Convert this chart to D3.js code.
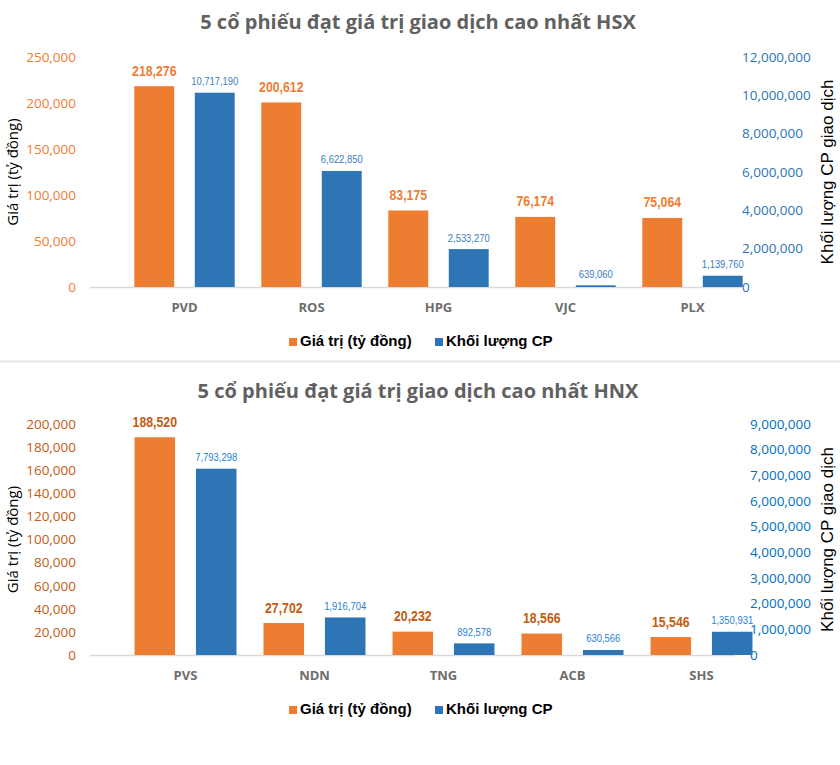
<!DOCTYPE html>
<html><head><meta charset="utf-8">
<script src="https://cdn.jsdelivr.net/npm/d3@7/dist/d3.min.js"></script>
<style>body{margin:0;background:#fff}svg{display:block}</style>
</head><body><svg id="c" width="840" height="765"></svg>
<script>
// ---------- data ----------
const hsxStocks = ["PVD", "ROS", "HPG", "VJC", "PLX"];
const hsxValue = [218276, 200612, 83175, 76174, 75064];
const hsxVolume = [10717190, 6622850, 2533270, 639060, 1139760];
const hsxValueTicks = [0, 50000, 100000, 150000, 200000, 250000];
const hsxVolumeTicks = [0, 2000000, 4000000, 6000000, 8000000, 10000000, 12000000];

const hnxStocks = ["PVS", "NDN", "TNG", "ACB", "SHS"];
const hnxValue = [188520, 27702, 20232, 18566, 15546];
const hnxVolume = [7793298, 1916704, 892578, 630566, 1350931];
const hnxValueTicks = [0, 20000, 40000, 60000, 80000, 100000, 120000, 140000, 160000, 180000, 200000];
const hnxVolumeTicks = [0, 1000000, 2000000, 3000000, 4000000, 5000000, 6000000, 7000000, 8000000, 9000000];

const seriesNames = ["Giá trị (tỷ đồng)", "Khối lượng CP"];
const chartTitles = ["5 cổ phiếu đạt giá trị giao dịch cao nhất HSX", "5 cổ phiếu đạt giá trị giao dịch cao nhất HNX"];
const leftAxisTitle = "Giá trị (tỷ đồng)";
const rightAxisTitle = "Khối lượng CP giao dịch";

// ---------- helpers ----------
const svg = d3.select("#c");
const fmt = d3.format(",");
const ORANGE = "#ED7D31", BLUE = "#2E75B6";

// detect narrow font availability
function hasFont(name) {
  const c = document.createElement("canvas").getContext("2d");
  const s = "10,717,190 218,276";
  c.font = "20px monospace"; const a = c.measureText(s).width;
  c.font = "20px '" + name + "', monospace"; const b = c.measureText(s).width;
  return Math.abs(a - b) > 0.5;
}
const narrowOK = hasFont("Liberation Sans Narrow");
const NARROW = narrowOK ? "'Liberation Sans Narrow', 'Arial Narrow', sans-serif" : "'Liberation Sans', Arial, sans-serif";
const squeeze = narrowOK ? 1 : 0.82;

function drawChart(cfg) {
  const g = svg.append("g");
  // title
  g.append("text").attr("x", 418).attr("y", cfg.titleY)
    .attr("text-anchor", "middle")
    .style("font-family", "'Open Sans', sans-serif").style("font-weight", 700)
    .style("font-size", "20px").style("fill", "#616161")
    .text(cfg.title);

  const x0 = d3.scaleBand().domain(cfg.stocks).range(cfg.xRange);
  const x1 = d3.scaleBand().domain(["value", "volume"]).range([0, x0.bandwidth()])
    .paddingInner(0.34).paddingOuter(0.22);
  const yL = d3.scaleLinear().domain([0, d3.max(cfg.valueTicks)]).range([cfg.plotBottom, cfg.plotTop]);
  const yR = d3.scaleLinear().domain([0, d3.max(cfg.volumeTicks)]).range([cfg.plotBottom, cfg.plotTop]);
  // bars of the volume series as rendered in the reference (baseline offset)
  const yRbar = d3.scaleLinear().domain(cfg.volBarDomain).range([cfg.plotBottom, cfg.plotTop]);

  // left axis
  const la = g.append("g").attr("transform", `translate(${cfg.leftLabelX},0)`)
    .call(d3.axisLeft(yL).tickValues(cfg.valueTicks).tickFormat(fmt).tickSize(0).tickPadding(0));
  la.select(".domain").remove();
  la.selectAll("text").style("font-family", "'Open Sans', sans-serif").style("font-size", "13.5px")
    .style("fill", cfg.leftTickColor);

  // right axis
  const ra = g.append("g").attr("transform", `translate(${cfg.rightLabelX},0)`)
    .call(d3.axisRight(yR).tickValues(cfg.volumeTicks).tickFormat(fmt).tickSize(0).tickPadding(0));
  ra.select(".domain").remove();
  ra.selectAll("text").style("font-family", "'Open Sans', sans-serif").style("font-size", "13.5px")
    .style("fill", cfg.rightTickColor);

  // baseline
  g.append("line").attr("x1", cfg.axisLine[0]).attr("x2", cfg.axisLine[1])
    .attr("y1", cfg.plotBottom + 0.5).attr("y2", cfg.plotBottom + 0.5)
    .attr("stroke", "#d9d9d9").attr("stroke-width", 1.5);

  // bars
  const groups = g.selectAll(".grp").data(cfg.stocks).join("g")
    .attr("transform", d => `translate(${x0(d)},0)`);
  groups.append("rect")
    .attr("x", x1("value")).attr("width", x1.bandwidth())
    .attr("y", (d, i) => yL(cfg.value[i]))
    .attr("height", (d, i) => cfg.plotBottom - yL(cfg.value[i]))
    .attr("fill", ORANGE);
  groups.append("rect")
    .attr("x", x1("volume")).attr("width", x1.bandwidth())
    .attr("y", (d, i) => yRbar(cfg.volume[i]))
    .attr("height", (d, i) => cfg.plotBottom - yRbar(cfg.volume[i]))
    .attr("fill", BLUE);

  // data labels
  groups.append("text")
    .attr("transform", (d, i) => `translate(${x1("value") + x1.bandwidth() / 2},${yL(cfg.value[i]) - 10.5}) scale(${squeeze},1)`)
    .attr("text-anchor", "middle")
    .style("font-family", NARROW).style("font-weight", 700).style("font-size", "15px")
    .style("fill", cfg.valueLabelColor)
    .text((d, i) => fmt(cfg.value[i]));
  groups.append("text")
    .attr("transform", (d, i) => `translate(${x1("volume") + x1.bandwidth() / 2},${yRbar(cfg.volume[i]) - 7.5}) scale(${squeeze},1)`)
    .attr("text-anchor", "middle")
    .style("font-family", NARROW).style("font-size", "11.5px")
    .style("fill", cfg.volumeLabelColor)
    .text((d, i) => fmt(cfg.volume[i]));

  // category axis labels
  const xa = g.append("g").attr("transform", `translate(0,${cfg.plotBottom})`)
    .call(d3.axisBottom(x0).tickSize(0).tickPadding(cfg.xLabelPad));
  xa.select(".domain").remove();
  xa.selectAll("text").style("font-family", "'Open Sans', sans-serif").style("font-weight", 700)
    .style("font-size", "13px").style("fill", "#6d6d6d");

  // axis titles
  const midY = (cfg.plotTop + cfg.plotBottom) / 2;
  g.append("text").attr("transform", `translate(18,${midY}) rotate(-90)`)
    .attr("text-anchor", "middle")
    .style("font-family", "'Open Sans', sans-serif").style("font-size", "15px").style("fill", "#000")
    .text(leftAxisTitle);
  g.append("text").attr("transform", `translate(833,${midY}) rotate(-90)`)
    .attr("text-anchor", "middle")
    .style("font-family", "'Liberation Sans', Arial, sans-serif").style("font-size", "17px").style("fill", "#000")
    .text(rightAxisTitle);

  // legend
  const legX = [289, 435];
  const legColors = [ORANGE, BLUE];
  seriesNames.forEach((name, i) => {
    g.append("rect").attr("x", legX[i]).attr("y", cfg.legendY - 8).attr("width", 8).attr("height", 8)
      .attr("fill", legColors[i]);
    g.append("text").attr("x", legX[i] + 11).attr("y", cfg.legendY)
      .style("font-family", "'Liberation Sans', Arial, sans-serif").style("font-weight", 700)
      .style("font-size", "15px").style("fill", "#000")
      .text(name);
  });
}

drawChart({
  title: chartTitles[0], titleY: 29,
  stocks: hsxStocks, value: hsxValue, volume: hsxVolume,
  valueTicks: hsxValueTicks, volumeTicks: hsxVolumeTicks,
  plotTop: 57, plotBottom: 287, xRange: [121, 756], axisLine: [90, 742],
  leftLabelX: 76, rightLabelX: 742, volBarDomain: [550000, 12586000],
  xLabelPad: 16, legendY: 346,
  leftTickColor: "#ED7D31", rightTickColor: "#2E75B6",
  valueLabelColor: "#ED7D31", volumeLabelColor: "#3A7DC2"
});

// separator
svg.append("line").attr("x1", 0).attr("x2", 840).attr("y1", 361.5).attr("y2", 361.5)
  .attr("stroke", "#e6e6e6").attr("stroke-width", 2);

drawChart({
  title: chartTitles[1], titleY: 398,
  stocks: hnxStocks, value: hnxValue, volume: hnxVolume,
  valueTicks: hnxValueTicks, volumeTicks: hnxVolumeTicks,
  plotTop: 424, plotBottom: 655, xRange: [121, 766], axisLine: [90, 735],
  leftLabelX: 76, rightLabelX: 750, volBarDomain: [433000, 9560000],
  xLabelPad: 16, legendY: 714,
  leftTickColor: "#C55A11", rightTickColor: "#0070C0",
  valueLabelColor: "#C55A11", volumeLabelColor: "#1F80D0"
});
</script></body></html>
